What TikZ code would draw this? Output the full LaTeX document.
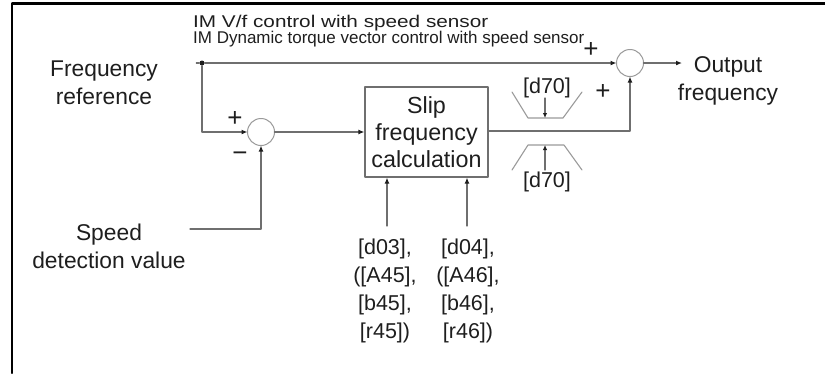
\documentclass[tikz,border=0pt]{standalone}
\usepackage{fontspec}
\usepackage{graphicx}
\setmainfont{Liberation Sans}
\usetikzlibrary{arrows.meta,positioning,calc}
\definecolor{wiregray}{HTML}{6F6F6F}
\definecolor{softgray}{HTML}{9A9A9A}
\definecolor{ink}{HTML}{1E1E1E}
\tikzset{
    every picture/.style={line cap=round,line join=round},
    sumnode/.style={draw=softgray,circle,minimum size=27pt,inner sep=0pt,
      line width=1pt,outer sep=0pt},
    slipblock/.style={draw=wiregray,line width=1.2pt,minimum width=123pt,
      minimum height=90pt,inner sep=0pt,align=center,text=ink,
      font=\fontsize{23.3}{27}\selectfont},
    sigtext/.style={align=center,text=ink,inner sep=0pt,
      font=\fontsize{22.8}{28}\selectfont},
    partext/.style={align=center,text=ink,inner sep=0pt,
      font=\fontsize{21.5}{28}\selectfont},
    modetext/.style={anchor=base west,text=ink,inner sep=0pt,
      font=\fontsize{17}{20}\selectfont},
    signmark/.style={text=ink,inner sep=0pt,font=\fontsize{26}{26}\selectfont},
    wire/.style={draw=wiregray,line width=1.2pt},
    sigarrow/.style={wire,-{Latex[length=6pt,width=5pt,color=ink]}},
    ramp/.style={draw=softgray,line width=1.1pt}
}
\begin{document}
\begin{tikzpicture}[x=1pt,y=-1pt]
  \useasboundingbox (0,0) rectangle (825,373);
  % frame
  \draw[line width=2.2pt,black] (12,373) -- (12,3.5) -- (825,3.5);

  % headings
  \node[modetext] (vf) at (193,27) {\scalebox{1.22}[1]{IM V/f control with speed sensor}};
  \node[modetext] (dtv) at (193,43) {IM Dynamic torque vector control with speed sensor};

  % blocks
  \node[sumnode] (sumA) at (261,132) {};
  \node[sumnode] (sumB) at (630,63) {};
  \node[slipblock] (slip) at (426.5,132) {Slip\\frequency\\calculation};
  \node[circle,fill=ink,inner sep=0pt,minimum size=5pt] (tap) at (202,63) {};

  % texts
  \node[sigtext,anchor=base] (fref) at (104,104) {Frequency\\reference};
  \node[sigtext,anchor=base] (spd) at (109,268) {Speed\\detection value};
  \node[sigtext,anchor=base] (fout) at (728,100) {Output\\frequency};
  \node[partext,anchor=base] (parA) at (385,338) {{[d03]},\\{([A45]},\\{[b45]},\\{[r45])}};
  \node[partext,anchor=base] (parB) at (468,338) {{[d04]},\\{([A46]},\\{[b46]},\\{[r46])}};
  \coordinate (inA) at (387,226);
  \coordinate (inB) at (467,226);
  \coordinate (spdend) at (190,229);
  \coordinate (outend) at (682,63);

  % signs
  \node[signmark] (pA) at (235,119) {+};
  \node[signmark] (mA) at (240,157) {\textminus};
  \node[signmark] (pB) at (591,50) {+};
  \node[signmark] (pC) at (603,92) {+};

  % connectors
  \draw[sigarrow] (tap) -- (sumB.west);
  \draw[wire] (tap.west) -- ++(-3,0);
  \draw[sigarrow] (tap) |- (sumA.west);
  \draw[sigarrow] (sumA.east) -- (slip.west |- sumA.east);
  \draw[sigarrow] (spdend) -| (sumA.south);
  \draw[sigarrow] (slip.east |- 0,131) -| (sumB.south);
  \draw[sigarrow] (sumB.east) -- (outend);
  \draw[sigarrow] (inA) -- (inA |- slip.south);
  \draw[sigarrow] (inB) -- (inB |- slip.south);

  % acceleration / deceleration limit
  \draw[ramp] (512,92) -- (528,118) -- (563,118) -- (582,92);
  \draw[ramp] (512,170) -- (528,145) -- (564,145) -- (582,170);
  \node[partext] (limA) at (547,88) {[d70]};
  \node[partext] (limB) at (547,182) {[d70]};
  \coordinate (limAtip) at (545,98);
  \coordinate (limBtip) at (545,170);
  \draw[wire,-{Latex[length=5pt,width=4.5pt,color=ink]}] (limAtip) -- (545,118);
  \draw[wire,-{Latex[length=5pt,width=4.5pt,color=ink]}] (limBtip) -- (545,145);
\end{tikzpicture}
\end{document}
